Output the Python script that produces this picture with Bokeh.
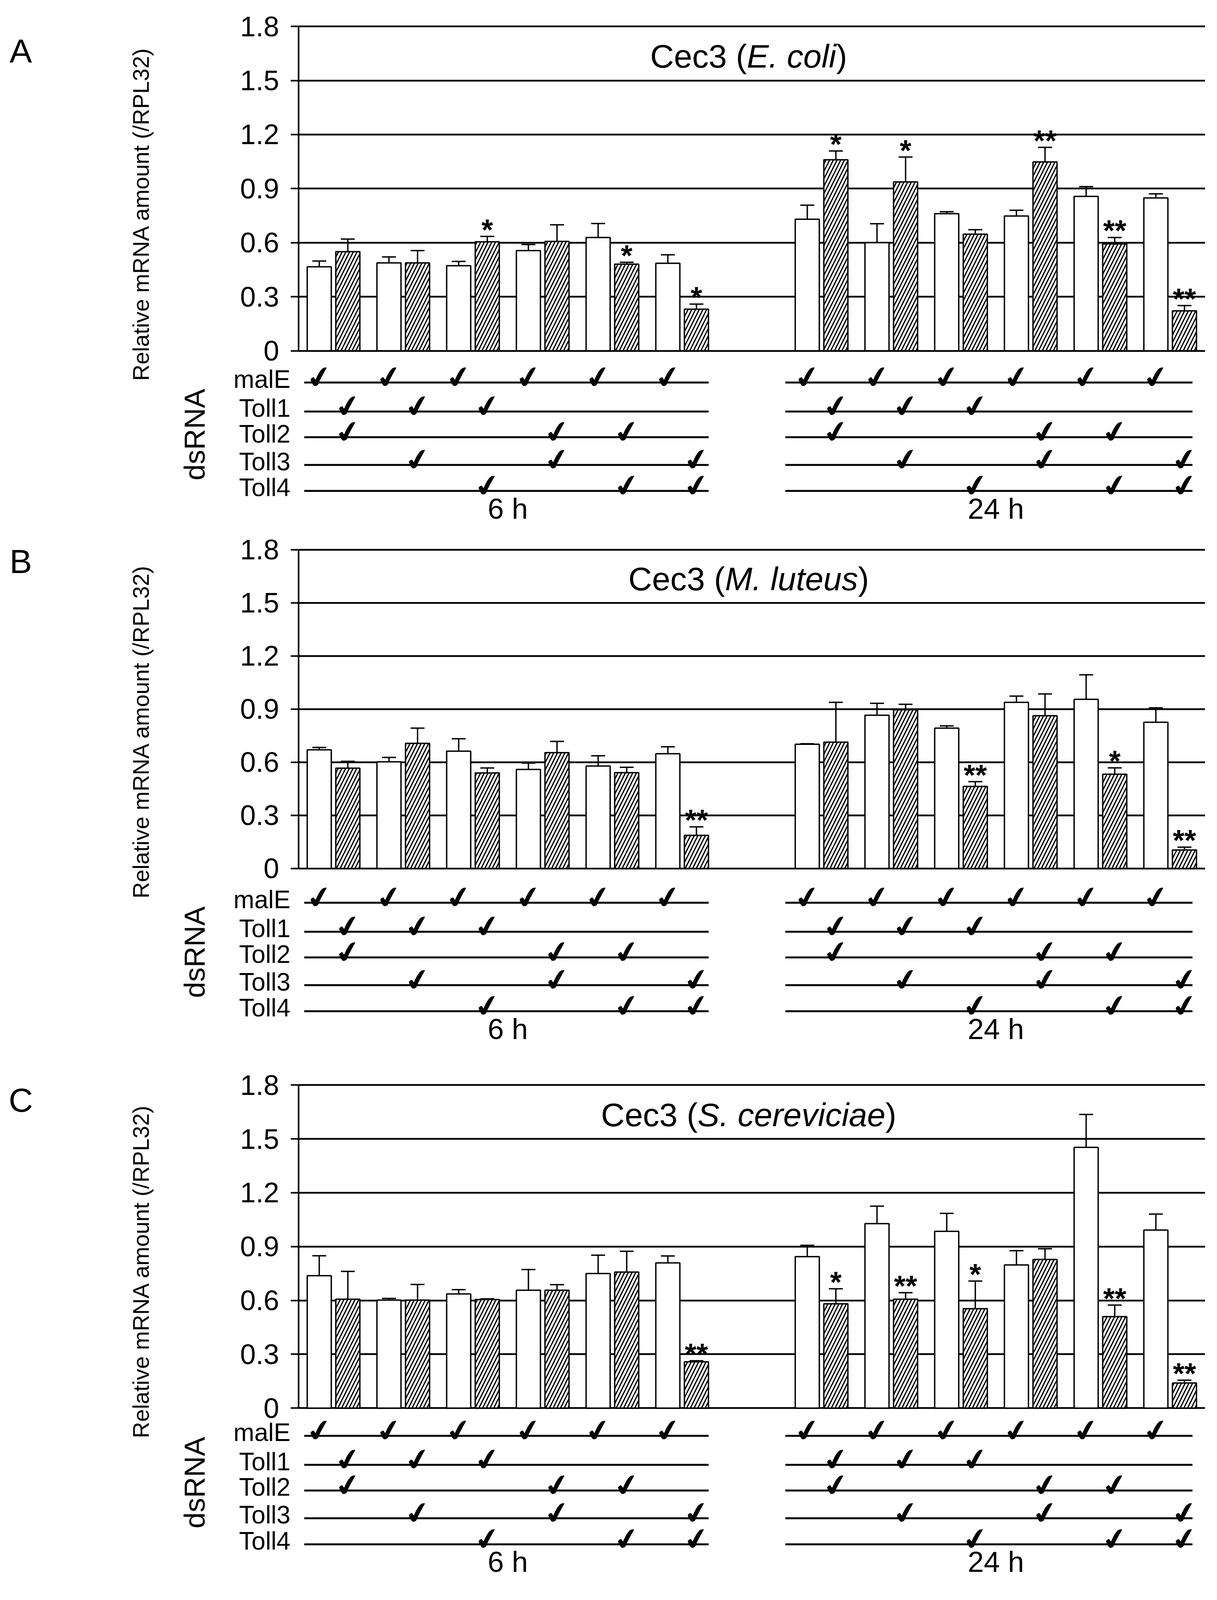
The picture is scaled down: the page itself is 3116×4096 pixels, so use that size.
import math
from bokeh.plotting import figure
from bokeh.models import Range1d, FixedTicker
from bokeh.layouts import column, row
from bokeh.core.properties import value
from bokeh.embed import file_html
from bokeh.resources import INLINE

# ---------------- data ----------------
conditions = [("Toll1", "Toll2"), ("Toll1", "Toll3"), ("Toll1", "Toll4"),
              ("Toll2", "Toll3"), ("Toll2", "Toll4"), ("Toll3", "Toll4")]
times = ["6 h", "24 h"]
rows = ["malE", "Toll1", "Toll2", "Toll3", "Toll4"]
y_ticks = [0, 0.3, 0.6, 0.9, 1.2, 1.5, 1.8]
y_tick_labels = ["0", "0.3", "0.6", "0.9", "1.2", "1.5", "1.8"]

# order: 6 h (6 pairs) then 24 h (6 pairs)
ecoli_malE = [0.466, 0.488, 0.472, 0.556, 0.629, 0.486, 0.730, 0.600, 0.761, 0.748, 0.857, 0.848]
ecoli_malE_err = [0.032, 0.033, 0.024, 0.034, 0.077, 0.047, 0.078, 0.105, 0.011, 0.032, 0.054, 0.023]
ecoli_toll = [0.550, 0.488, 0.605, 0.607, 0.481, 0.231, 1.060, 0.937, 0.647, 1.048, 0.593, 0.222]
ecoli_toll_err = [0.070, 0.068, 0.030, 0.092, 0.010, 0.028, 0.049, 0.138, 0.025, 0.081, 0.036, 0.029]
ecoli_sig = ["", "", "*", "", "*", "*", "*", "*", "", "**", "**", "**"]

mlut_malE = [0.670, 0.602, 0.662, 0.559, 0.578, 0.648, 0.701, 0.865, 0.792, 0.938, 0.955, 0.825]
mlut_malE_err = [0.013, 0.025, 0.070, 0.036, 0.058, 0.039, 0.003, 0.067, 0.013, 0.035, 0.138, 0.082]
mlut_toll = [0.566, 0.706, 0.539, 0.654, 0.541, 0.187, 0.713, 0.896, 0.463, 0.862, 0.532, 0.104]
mlut_toll_err = [0.039, 0.086, 0.028, 0.063, 0.030, 0.048, 0.225, 0.031, 0.027, 0.123, 0.036, 0.016]
mlut_sig = ["", "", "", "", "", "**", "", "", "**", "", "*", "**"]

scer_malE = [0.738, 0.602, 0.636, 0.657, 0.750, 0.809, 0.844, 1.028, 0.985, 0.798, 1.453, 0.992]
scer_malE_err = [0.111, 0.009, 0.024, 0.115, 0.102, 0.039, 0.063, 0.097, 0.100, 0.079, 0.183, 0.089]
scer_toll = [0.607, 0.602, 0.605, 0.657, 0.758, 0.258, 0.581, 0.607, 0.554, 0.828, 0.510, 0.140]
scer_toll_err = [0.155, 0.087, 0.004, 0.031, 0.116, 0.006, 0.084, 0.036, 0.154, 0.060, 0.064, 0.016]
scer_sig = ["", "", "", "", "", "**", "*", "**", "*", "", "**", "**"]

panel_letters = ["A", "B", "C"]
species = ["E. coli", "M. luteus", "S. cereviciae"]

# ---------------- layout (reference pixels) ----------------
S = 0.844
FONT = "Liberation Sans"
AX_X = 915.0
SLOT = 211.5
LET_W = 100           # width of letter strip (page px)
MAIN_W = 3000         # width of main figure
BORDER_L = 200        # reserved left panel of main figure
BORDER_R = 15
heights = [1359, 1351, 1370]
geom = [dict(y18=89, y0=1073, line0=96, letter=163, ds=158),
        dict(y18=1676, y0=2643, line0=104, letter=1711, ds=150),
        dict(y18=3300, y0=4280, line0=84, letter=3345, ds=142)]
row_gap = [0, 88, 166, 250, 329]

ARIAL = {" ": 278, "(": 333, ")": 333, ".": 278, "C": 722, "e": 556, "c": 500, "3": 556,
         "E": 667, "o": 556, "l": 222, "i": 222, "M": 833, "u": 556, "t": 278, "s": 500,
         "S": 667, "r": 333, "v": 500, "a": 556}


def twidth(s, size):
    return sum(ARIAL.get(ch, 556) for ch in s) / 1000.0 * size


def sx(ref_x):
    return (ref_x - AX_X) / SLOT


slots = list(range(6)) + list(range(7, 13))
x_ctrl = [s + 0.5 - 0.205 for s in slots]
x_kd = [s + 0.5 + 0.205 for s in slots]
BW = 0.345

panel_data = [
    (ecoli_malE, ecoli_malE_err, ecoli_toll, ecoli_toll_err, ecoli_sig),
    (mlut_malE, mlut_malE_err, mlut_toll, mlut_toll_err, mlut_sig),
    (scer_malE, scer_malE_err, scer_toll, scer_toll_err, scer_sig),
]

frame_left_page = 8 + LET_W + BORDER_L
frame_right_page = 8 + LET_W + MAIN_W - BORDER_R
x_start = sx(frame_left_page / S)
x_end = sx(frame_right_page / S)

rows_layout = []
top_off = 8
for idx in range(3):
    g = geom[idx]
    H = heights[idx]
    ctrl, ctrl_e, kd, kd_e, sig = panel_data[idx]
    Y0, Y18 = g["y0"], g["y18"]
    k = (Y0 - Y18) / 1.8
    v_top = (S * Y0 - top_off) / (S * k)
    v_bot = (S * Y0 - top_off - H) / (S * k)
    d_top = top_off / S - Y0
    d_bot = (top_off + H) / S - Y0

    p = figure(width=MAIN_W, height=H, x_range=Range1d(x_start, x_end),
               y_range=Range1d(v_bot, v_top),
               x_axis_type=None, output_backend="svg", toolbar_location=None,
               min_border_left=BORDER_L, min_border_right=BORDER_R,
               min_border_top=0, min_border_bottom=0, outline_line_color=None,
               background_fill_color="white", border_fill_color="white")
    p.extra_y_ranges = {"px": Range1d(d_bot, d_top)}

    # axis and grid
    ax = p.yaxis[0]
    ax.fixed_location = 0
    ax.ticker = FixedTicker(ticks=y_ticks)
    ax.bounds = (0, 1.8)
    ax.major_label_overrides = {t: l for t, l in zip(y_ticks, y_tick_labels)}
    ax.axis_line_width = 4
    ax.axis_line_color = "black"
    ax.major_tick_out = 20
    ax.major_tick_in = 0
    ax.major_tick_line_width = 4
    ax.major_tick_line_color = "black"
    ax.minor_tick_line_color = None
    ax.major_label_text_font = FONT
    ax.major_label_text_font_size = "72px"
    ax.major_label_text_color = "black"
    ax.major_label_standoff = 30
    grid = p.ygrid[0]
    grid.ticker = FixedTicker(ticks=y_ticks)
    grid.grid_line_color = "black"
    grid.grid_line_width = 4.5
    grid.cross_bounds = (0, 13)

    # bars
    p.vbar(x=x_ctrl, top=ctrl, bottom=0, width=BW, fill_color="white",
           line_color="black", line_width=3.5)
    p.vbar(x=x_kd, top=kd, bottom=0, width=BW, fill_color="white",
           hatch_pattern="/", hatch_color="black", hatch_scale=19, hatch_weight=3.2,
           line_color="black", line_width=3.5)

    # error bars
    for xs, vals, errs in ((x_ctrl, ctrl, ctrl_e), (x_kd, kd, kd_e)):
        tops = [v + e for v, e in zip(vals, errs)]
        p.segment(x0=xs, y0=vals, x1=xs, y1=tops, line_color="black", line_width=3.5)
        p.segment(x0=[x - 0.1 for x in xs], y0=tops, x1=[x + 0.1 for x in xs], y1=tops,
                  line_color="black", line_width=3.5)

    # significance stars
    sx_, sy_, st_ = [], [], []
    for i, s in enumerate(sig):
        if s:
            sx_.append(x_kd[i])
            sy_.append(kd[i] + kd_e[i])
            st_.append(s)
    p.text(x=sx_, y=sy_, text=st_, text_align="center", text_baseline="alphabetic",
           y_offset=-18, text_font=value(FONT), text_font_style="bold",
           text_font_size="76px", text_color="black")

    # title with italic species
    tsize = 84
    parts = ["Cec3 (", species[idx], ")"]
    widths = [twidth(t, tsize) for t in parts]
    total = sum(widths)
    cx = sx(2280)
    start = -total / 2
    offs = []
    for wdt in widths:
        offs.append(start)
        start += wdt
    for t, off, style in zip(parts, offs, ["normal", "italic", "normal"]):
        p.text(x=[cx], y=[1.635], text=[t], x_offset=off, text_align="left",
               text_baseline="middle", text_font=value(FONT), text_font_style=style,
               text_font_size=f"{tsize}px", text_color="black")

    # table lines and checks
    line_ys = [g["line0"] + r for r in row_gap]
    for ly in line_ys:
        p.segment(x0=[0.08, 6.98], y0=[ly, ly], x1=[5.88, 12.82], y1=[ly, ly],
                  line_color="black", line_width=5, y_range_name="px")
    cx_, cy_ = [], []
    for j in range(12):
        cx_.append(x_ctrl[j])
        cy_.append(line_ys[0] - 16)
        cond = conditions[j % 6]
        for r, gene in enumerate(rows[1:], start=1):
            if gene in cond:
                cx_.append(x_kd[j])
                cy_.append(line_ys[r] - 16)
    p.text(x=cx_, y=cy_, text=["\u2714"] * len(cx_), text_align="center",
           text_baseline="alphabetic", angle=0.2, text_font=value("DejaVu Sans"),
           text_font_size="76px", text_color="black", y_range_name="px")

    # time labels
    p.text(x=[3.0, 10.0], y=[line_ys[0] + 383] * 2, text=times, text_align="center",
           text_baseline="middle", text_font=value(FONT), text_font_size="74px",
           text_color="black", y_range_name="px")

    # row labels, dsRNA, y title
    p.text(x=[sx(890)] * len(rows), y=[ly - 10 for ly in line_ys], text=rows,
           text_align="right", text_baseline="alphabetic", text_font=value(FONT),
           text_font_size="64px", text_color="black", y_range_name="px")
    p.text(x=[sx(600)], y=[line_ys[0] + g["ds"]], text=["dsRNA"], angle=math.pi / 2,
           text_align="center", text_baseline="middle", text_font=value(FONT),
           text_font_size="74px", text_color="black", y_range_name="px")
    p.text(x=[sx(436)], y=[-415], text=["Relative mRNA amount (/RPL32)"],
           angle=math.pi / 2, text_align="center", text_baseline="middle",
           text_font=value(FONT), text_font_size="58px", text_color="black",
           y_range_name="px")

    # panel letter strip
    q = figure(width=LET_W, height=H, x_range=Range1d(0, LET_W), y_range=Range1d(d_bot, d_top),
               x_axis_type=None, y_axis_type=None, output_backend="svg",
               toolbar_location=None, min_border_left=0, min_border_right=0,
               min_border_top=0, min_border_bottom=0, outline_line_color=None,
               background_fill_color="white", border_fill_color="white")
    q.text(x=[72 * S - 8], y=[g["letter"] - Y0], text=[panel_letters[idx]],
           text_align="center", text_baseline="middle", text_font=value(FONT),
           text_font_size="86px", text_color="black")

    rows_layout.append(row(q, p, spacing=0))
    top_off += H

layout = column(*rows_layout, spacing=0)
open("out.html", "w").write(file_html(layout, INLINE))
